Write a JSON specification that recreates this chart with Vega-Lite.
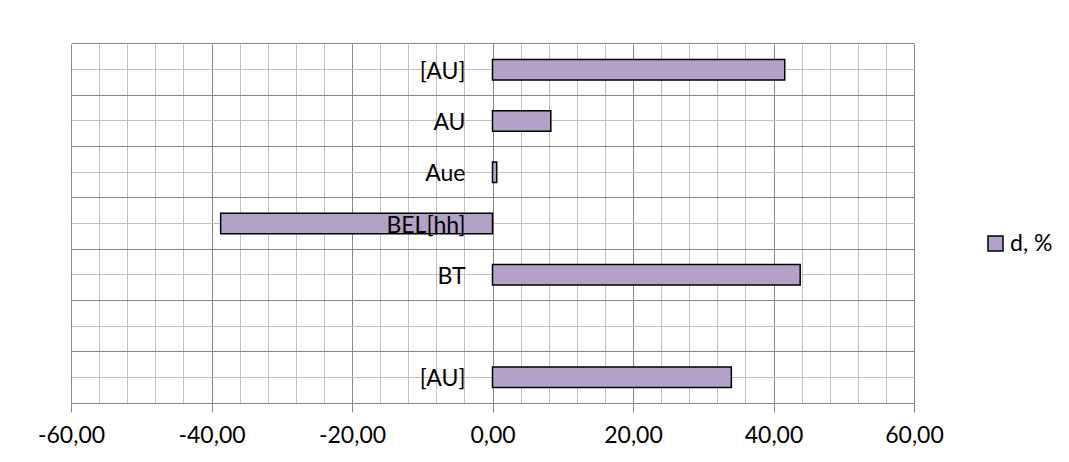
{
  "$schema": "https://vega.github.io/schema/vega-lite/v6.json",
  "autosize": "none",
  "width": 843,
  "height": 359,
  "padding": {"left": 71, "top": 44, "right": 155, "bottom": 59},
  "background": "white",
  "config": {
    "view": {"stroke": null},
    "font": "Lato",
    "locale": {
      "number": {"decimal": ",", "thousands": " ", "grouping": [3], "currency": ["", ""], "minus": "-"}
    }
  },
  "data": {
    "values": [
      {"id": "1", "label": "[AU]", "d": 41.6},
      {"id": "2", "label": "AU", "d": 8.3},
      {"id": "3", "label": "Aue", "d": 0.6},
      {"id": "4", "label": "BEL[hh]", "d": -38.7},
      {"id": "5", "label": "BT", "d": 43.8},
      {"id": "6", "label": "", "d": null},
      {"id": "7", "label": "[AU]", "d": 34.0}
    ]
  },
  "resolve": {"axis": {"y": "independent"}},
  "layer": [
    {
      "mark": {"type": "bar", "stroke": "black", "strokeWidth": 1.5, "opacity": 1},
      "encoding": {
        "y": {
          "field": "id",
          "type": "nominal",
          "scale": {"domain": ["1", "2", "3", "4", "5", "6", "7"], "paddingInner": 0.6, "paddingOuter": 0.3},
          "axis": {
            "orient": "left",
            "offset": -422,
            "bandPosition": -0.75,
            "grid": true,
            "gridColor": "#868686",
            "gridWidth": 1,
            "domainColor": "#868686",
            "domainWidth": 1,
            "tickColor": "#868686",
            "tickSize": 9,
            "labels": false,
            "title": null
          }
        },
        "x": {
          "field": "d",
          "type": "quantitative",
          "scale": {"domain": [-60, 60], "nice": false, "zero": true},
          "axis": {
            "values": [-60, -56, -52, -48, -44, -40, -36, -32, -28, -24, -20, -16, -12, -8, -4, 0, 4, 8, 12, 16, 20, 24, 28, 32, 36, 40, 44, 48, 52, 56, 60],
            "tickCount": 40,
            "format": ".2f",
            "labelExpr": "datum.value % 20 === 0 ? replace(replace(datum.label, '.', ','), '\u2212', '-') : ''",
            "grid": true,
            "gridColor": {"condition": {"test": "datum.value % 20 === 0", "value": "#868686"}, "value": "#C0C0C0"},
            "gridWidth": 1,
            "tickColor": "#868686",
            "tickOpacity": {"condition": {"test": "datum.value % 20 === 0", "value": 1}, "value": 0},
            "tickSize": 9,
            "domainColor": "#868686",
            "labelFont": "Lato",
            "labelFontSize": 23,
            "labelColor": "black",
            "labelPadding": 12,
            "labelFlush": false,
            "labelOverlap": false,
            "title": null
          }
        },
        "color": {
          "datum": "d, %",
          "scale": {"range": ["#B3A2C7"]},
          "legend": {
            "orient": "none",
            "legendX": 913,
            "legendY": 188,
            "title": null,
            "symbolType": "square",
            "symbolSize": 225,
            "symbolStrokeColor": "black",
            "symbolStrokeWidth": 1.5,
            "symbolOpacity": 1,
            "labelFont": "Lato",
            "labelFontSize": 23,
            "labelColor": "black",
            "labelOffset": 3,
            "padding": 0
          }
        }
      }
    },
    {
      "mark": {"type": "text", "align": "right", "baseline": "middle", "dx": -27, "dy": 2, "font": "Lato", "fontSize": 23, "color": "black"},
      "encoding": {
        "y": {
          "field": "id",
          "type": "nominal",
          "axis": {
            "orient": "right",
            "bandPosition": 0.5,
            "grid": true,
            "gridColor": "#C0C0C0",
            "gridWidth": 1,
            "domain": false,
            "ticks": false,
            "labels": false,
            "title": null
          }
        },
        "x": {"datum": 0, "type": "quantitative"},
        "text": {"field": "label"}
      }
    }
  ]
}
